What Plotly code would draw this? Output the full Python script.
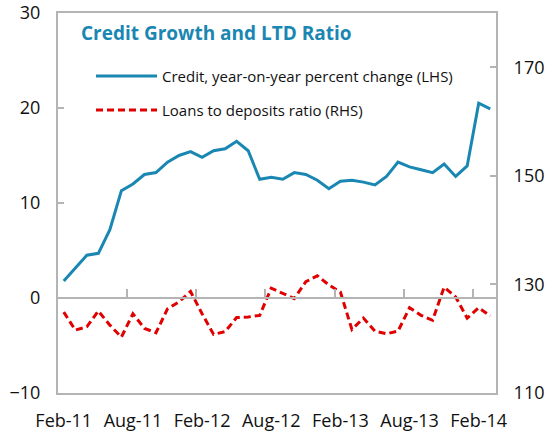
import plotly.graph_objects as go

months = ["Feb-11", "Mar-11", "Apr-11", "May-11", "Jun-11", "Jul-11", "Aug-11", "Sep-11", "Oct-11", "Nov-11",
          "Dec-11", "Jan-12", "Feb-12", "Mar-12", "Apr-12", "May-12", "Jun-12", "Jul-12", "Aug-12", "Sep-12",
          "Oct-12", "Nov-12", "Dec-12", "Jan-13", "Feb-13", "Mar-13", "Apr-13", "May-13", "Jun-13", "Jul-13",
          "Aug-13", "Sep-13", "Oct-13", "Nov-13", "Dec-13", "Jan-14", "Feb-14", "Mar-14"]

credit_yoy = [1.8, 3.1, 4.5, 4.7, 7.2, 11.3, 12.0, 13.0, 13.2, 14.3,
              15.0, 15.4, 14.8, 15.5, 15.7, 16.5, 15.5, 12.5, 12.7, 12.5,
              13.2, 13.0, 12.4, 11.5, 12.3, 12.4, 12.2, 11.9, 12.8, 14.3,
              13.8, 13.5, 13.2, 14.1, 12.8, 13.9, 20.5, 19.9]

ltd_ratio = [124.9, 121.6, 122.2, 125.1, 122.5, 120.3, 124.6, 121.9, 121.1, 125.5,
             126.8, 128.7, 124.6, 120.8, 121.3, 123.9, 124.0, 124.3, 129.3, 128.3,
             127.4, 130.5, 131.6, 129.9, 128.6, 121.7, 123.8, 121.4, 120.9, 121.4,
             125.7, 124.3, 123.4, 129.5, 127.7, 123.8, 125.7, 124.2]

tick_labels = ["Feb-11", "Aug-11", "Feb-12", "Aug-12", "Feb-13", "Aug-13", "Feb-14"]
left_ticks = [-10, 0, 10, 20, 30]
right_ticks = [110, 130, 150, 170]

title_text = "Credit Growth and LTD Ratio"
legend_credit = "Credit, year-on-year percent change (LHS)"
legend_ltd = "Loans to deposits ratio (RHS)"

BLUE = "#1a87b2"
RED = "#e00000"
GRAY = "#b4b4b4"
FONT = "Open Sans"

idx = list(range(len(months)))
label_pos = [months.index(m) for m in tick_labels]
between_ticks = [p - 0.5 for p in label_pos[1:]]
xrange = [-0.5, len(months) - 0.5]

W, H = 555, 435
L, R, T, B = 58, 59, 13, 42
pw, ph = W - L - R, H - T - B

fig = go.Figure()
fig.add_trace(go.Scatter(x=idx, y=credit_yoy, mode="lines", name=legend_credit,
                         line=dict(color=BLUE, width=3), xaxis="x", yaxis="y",
                         showlegend=False))
fig.add_trace(go.Scatter(x=idx, y=ltd_ratio, mode="lines", name=legend_ltd,
                         line=dict(color=RED, width=3, dash="7px,4px"), xaxis="x2", yaxis="y2",
                         showlegend=False))

fig.update_layout(
    width=W, height=H,
    margin=dict(l=L, r=R, t=T, b=B, autoexpand=False),
    paper_bgcolor="white", plot_bgcolor="white",
    font=dict(family=FONT, size=18, color="#111111"),
    xaxis=dict(range=xrange, tickmode="array", tickvals=label_pos, ticktext=tick_labels,
               ticks="", showline=True, mirror=True, linecolor=GRAY, linewidth=2,
               showgrid=False, zeroline=False, tickfont=dict(size=18), automargin=False,
               ticklabelstandoff=10),
    xaxis2=dict(range=xrange, overlaying="x", anchor="free", position=0.25,
                tickmode="array", tickvals=between_ticks, ticks="inside", ticklen=8,
                tickwidth=2, tickcolor=GRAY, showticklabels=False, showline=True,
                linecolor=GRAY, linewidth=2, showgrid=False, zeroline=False, automargin=False),
    yaxis=dict(range=[-10, 30], tickmode="array", tickvals=left_ticks, ticks="inside",
               ticklen=6, tickwidth=2, tickcolor=GRAY, showline=True, mirror=True,
               linecolor=GRAY, linewidth=2, showgrid=False, zeroline=False,
               ticklabelstandoff=12, tickfont=dict(size=18), automargin=False,
               ticklabeloverflow="allow"),
    yaxis2=dict(range=[110, 180], overlaying="y", side="right", anchor="x",
                tickmode="array", tickvals=right_ticks, ticks="inside", ticklen=6,
                tickwidth=2, tickcolor=GRAY, showline=True, linecolor=GRAY, linewidth=2,
                showgrid=False, zeroline=False, ticklabelstandoff=12, tickfont=dict(size=18),
                automargin=False, ticklabeloverflow="allow"),
)


def px(x):
    return (x - L) / pw


def py(y):
    return 1 - (y - T) / ph


fig.add_annotation(text="<b>" + title_text + "</b>", xref="paper", yref="paper",
                   x=px(79), y=py(33), xanchor="left", yanchor="middle", showarrow=False,
                   font=dict(family=FONT, size=19, color=BLUE))

for yy, col, dash, txt in [(76, BLUE, "solid", legend_credit), (110, RED, "7px,4px", legend_ltd)]:
    fig.add_shape(type="line", xref="paper", yref="paper", x0=px(96), x1=px(157), y0=py(yy), y1=py(yy),
                  line=dict(color=col, width=3, dash=dash))
    fig.add_annotation(text=txt, xref="paper", yref="paper", x=px(160), y=py(yy),
                       xanchor="left", yanchor="middle", showarrow=False,
                       font=dict(family=FONT, size=15, color="#111111"))

fig.write_html("out.html", config={"displayModeBar": False},
               post_script="document.body.style.margin='0';document.body.style.padding='0';")
